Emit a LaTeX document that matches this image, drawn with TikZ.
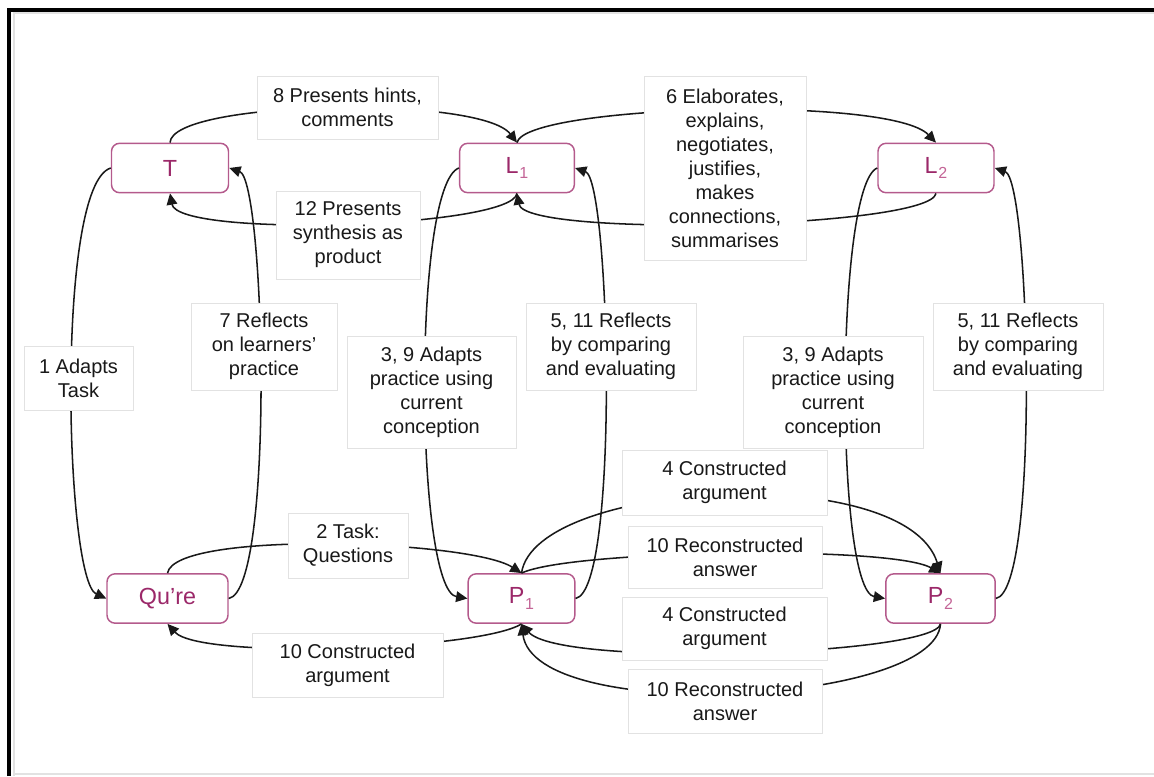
\documentclass[tikz,border=0pt]{standalone}
\usepackage{fontspec}
\setmainfont{Liberation Sans}
\usetikzlibrary{arrows.meta}
\definecolor{nodetext}{RGB}{155,40,105}
\definecolor{nodeborder}{RGB}{180,90,140}
\definecolor{subcol}{RGB}{195,100,150}
\definecolor{lblborder}{RGB}{226,226,226}
\definecolor{ink}{RGB}{25,25,25}
\newcommand{\mysub}[1]{\kern0.5pt{\color{subcol}\raisebox{-4pt}{\fontsize{12}{12}\selectfont #1}}}
\begin{document}
\begin{tikzpicture}[x=0.75pt,y=-0.75pt,
  actor/.style={draw=nodeborder, line width=1.1pt, rounded corners=6pt, minimum height=37pt,
    inner sep=0pt, text=nodetext, font=\fontsize{17.5}{20}\selectfont},
  lbl/.style={draw=lblborder, line width=0.5pt, fill=white, align=center, inner sep=0pt,
    text=ink, font=\fontsize{15}{18}\selectfont},
  conn/.style={draw=ink, line width=1.15pt, -{Triangle[length=8.5pt,width=8pt]}}
]
\useasboundingbox (0,0) rectangle (1154,776);
% frame
\draw[lblborder, line width=0.8pt] (14,776) -- (14,13) -- (1154,13);
\draw[lblborder, line width=0.8pt] (14,774) -- (1154,774);
\draw[black, line width=2.7pt] (9,776) -- (9,10) -- (1154,10);

% actors
\node[actor, minimum width=87.75pt] (T)  at (170,168) {T};
\node[actor, minimum width=86pt]    (L1) at (517,168) {L\mysub{1}};
\node[actor, minimum width=87pt]    (L2) at (936,168) {L\mysub{2}};
\node[actor, minimum width=90.75pt] (Q)  at (167.5,598.5) {Qu’re};
\node[actor, minimum width=80pt]    (P1) at (521.5,598.5) {P\mysub{1}};
\node[actor, minimum width=82pt]    (P2) at (940.5,598.5) {P\mysub{2}};

% connectors
\draw[conn] (T.west) .. controls (55,185) and (65,580) .. (Q.west);
\draw[conn] (Q.east) .. controls (275,590) and (265,180) .. (T.east);
\draw[conn] (Q.north) .. controls (175,530) and (470,540) .. (P1.north);
\draw[conn] (P1.south) .. controls (480,650) and (200,660) .. (Q.south);
\draw[conn] (T.north) .. controls (172,100) and (480,95) .. (L1.north);
\draw[conn] (L1.south) .. controls (512,228) and (178,238) .. (T.south);
\draw[conn] (L1.north) .. controls (525,105) and (890,95) .. (L2.north);
\draw[conn] (L2.south) .. controls (930,228) and (525,238) .. (L1.south);
\draw[conn] (L1.west) .. controls (412,185) and (415,590) .. (P1.west);
\draw[conn] (P1.east) .. controls (620,590) and (610,180) .. (L1.east);
\draw[conn] (L2.west) .. controls (835,185) and (835,590) .. (P2.west);
\draw[conn] (P2.east) .. controls (1040,590) and (1030,180) .. (L2.east);
\draw[conn] (P1.north) .. controls (535,480) and (905,460) .. (P2.north);
\draw[conn] (P1.north) .. controls (570,550) and (890,545) .. (P2.north);
\draw[conn] (P2.south) .. controls (935,655) and (560,668) .. (P1.south);
\draw[conn] (P2.south) .. controls (935,705) and (535,725) .. (P1.south);

% labels
\node[lbl, minimum width=135.75pt, minimum height=47.25pt] (l8)  at (347.5,107.5) {8 Presents hints,\\comments};
\node[lbl, minimum width=108pt,    minimum height=66pt]    (l12) at (348,235) {12 Presents\\synthesis as\\product};
\node[lbl, minimum width=121.5pt,  minimum height=138pt]   (l6)  at (725,168) {6 Elaborates,\\explains,\\negotiates,\\justifies,\\makes\\connections,\\summarises};
\node[lbl, minimum width=81.75pt,  minimum height=48pt]    (l1)  at (78.5,378) {1 Adapts\\Task};
\node[lbl, minimum width=109.5pt,  minimum height=65.25pt] (l7)  at (264,346.5) {7 Reflects\\on learners’\\practice};
\node[lbl, minimum width=126.75pt, minimum height=84pt]    (l3a) at (431.5,392) {3, 9 Adapts\\practice using\\current\\conception};
\node[lbl, minimum width=127.5pt,  minimum height=65.25pt] (l5a) at (611,346.5) {5, 11 Reflects\\by comparing\\and evaluating};
\node[lbl, minimum width=135pt,    minimum height=84pt]    (l3b) at (833,392) {3, 9 Adapts\\practice using\\current\\conception};
\node[lbl, minimum width=127.5pt,  minimum height=65.25pt] (l5b) at (1018,346.5) {5, 11 Reflects\\by comparing\\and evaluating};
\node[lbl, minimum width=90pt,     minimum height=48.75pt] (l2)  at (348,545.5) {2 Task:\\Questions};
\node[lbl, minimum width=143.25pt, minimum height=48pt]    (l10a) at (347.5,665) {10 Constructed\\argument};
\node[lbl, minimum width=153.75pt, minimum height=48.75pt] (l4a) at (724.5,482.5) {4 Constructed\\argument};
\node[lbl, minimum width=145.5pt,  minimum height=46.5pt]  (l10b) at (725,557) {10 Reconstructed\\answer};
\node[lbl, minimum width=153.75pt, minimum height=47.25pt] (l4b) at (724.5,628.5) {4 Constructed\\argument};
\node[lbl, minimum width=145.5pt,  minimum height=48pt]    (l10c) at (725,701) {10 Reconstructed\\answer};
\end{tikzpicture}
\end{document}
